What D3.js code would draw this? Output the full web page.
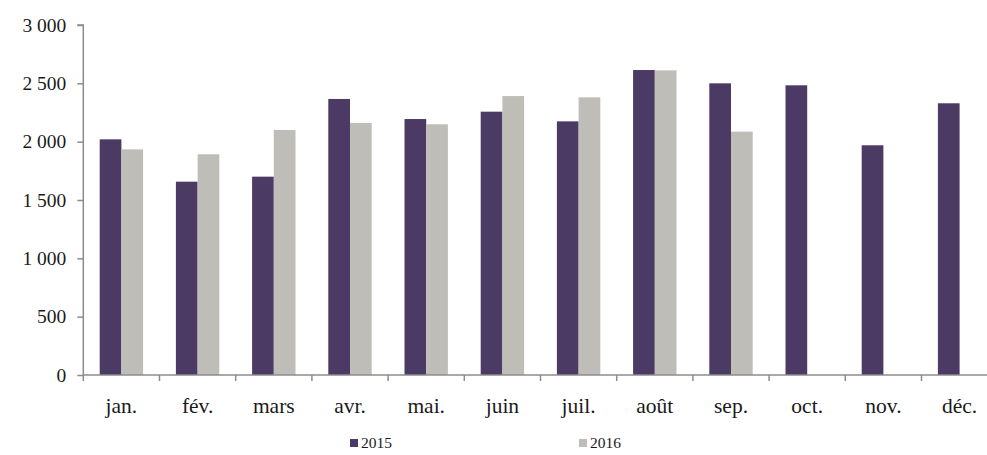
<!DOCTYPE html>
<html><head><meta charset="utf-8">
<script src="https://cdn.jsdelivr.net/npm/d3@7"></script>
<style>
html,body{margin:0;padding:0;background:#fff;}
svg{display:block;}
text{font-family:"Liberation Serif","DejaVu Serif",serif;}
</style></head>
<body>
<svg id="c" width="987" height="455"></svg>
<script>
const months = ["jan.","fév.","mars","avr.","mai.","juin","juil.","août","sep.","oct.","nov.","déc."];
const series = ["2015","2016"];
const values2015 = [2020,1657,1700,2366,2194,2257,2174,2614,2500,2483,1969,2329];
const values2016 = [1934,1892,2100,2160,2149,2391,2380,2611,2086,null,null,null];
const yTicks = [0,500,1000,1500,2000,2500,3000];
const colors = {"2015":"#4a3a64","2016":"#bebdb8"};

const svg = d3.select("#c");
const x = d3.scaleBand().domain(months).range([83.3,997.7]).paddingInner(0).paddingOuter(0);
const y = d3.scaleLinear().domain([0,3000]).range([375,25]);
const inner = d3.scaleBand().domain(series).range([0,x.bandwidth()]).paddingInner(0).paddingOuter(0.756);

const data = [];
months.forEach((m,i)=>{
  data.push({m, s:"2015", v:values2015[i]});
  if (values2016[i]!=null) data.push({m, s:"2016", v:values2016[i]});
});

svg.append("g").selectAll("rect").data(data).join("rect")
  .attr("x",d=>x(d.m)+inner(d.s))
  .attr("width",inner.bandwidth())
  .attr("y",d=>y(d.v))
  .attr("height",d=>y(0)-y(d.v))
  .attr("fill",d=>colors[d.s]);

const fmt = v => d3.format(",")(v).replace(/,/g," ");
const yAxis = d3.axisLeft(y).tickValues(yTicks).tickSize(6).tickPadding(11).tickFormat(fmt);
const gy = svg.append("g").attr("transform","translate(83.3,0)").call(yAxis)
  .attr("font-family",null).attr("font-size",null);
gy.select(".domain").attr("stroke","#8c8c8c").attr("stroke-width",1.5).attr("d","M-6,25H0V375");
gy.selectAll(".tick line").attr("stroke","#8c8c8c").attr("stroke-width",1.5);
gy.selectAll(".tick text").attr("font-size",19.5).attr("fill","#1a1a1a");

// x axis
const gx = svg.append("g").attr("transform","translate(0,375)");
gx.append("line").attr("x1",83.3).attr("x2",997.7).attr("y1",0).attr("y2",0).attr("stroke","#8c8c8c").attr("stroke-width",1.5);
gx.selectAll("line.t").data(months.concat(["end"])).join("line").attr("class","t")
  .attr("x1",(d,i)=>83.3+i*x.step()).attr("x2",(d,i)=>83.3+i*x.step())
  .attr("y1",0).attr("y2",6).attr("stroke","#8c8c8c").attr("stroke-width",1.5);
gx.selectAll("text").data(months).join("text")
  .attr("x",d=>x(d)+x.bandwidth()/2).attr("y",38)
  .attr("text-anchor","middle").attr("font-size",21.5).attr("fill","#1a1a1a").text(d=>d);

// legend
const leg = svg.append("g");
const legX = {"2015":350,"2016":579};
series.forEach(s=>{
  leg.append("rect").attr("x",legX[s]).attr("y",439).attr("width",8).attr("height",8).attr("fill",colors[s]);
  leg.append("text").attr("x",legX[s]+11).attr("y",447.5).attr("font-size",15.5).attr("fill","#1a1a1a").text(s);
});
</script>
</body></html>
